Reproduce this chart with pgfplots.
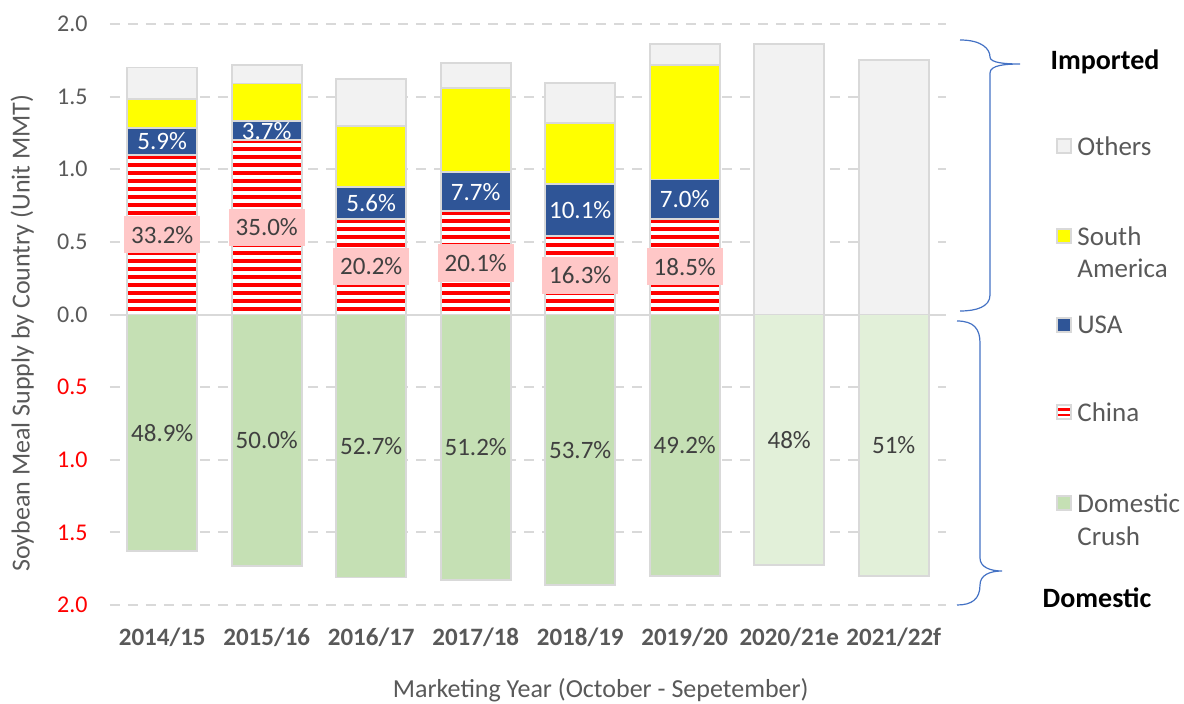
\documentclass[border=0pt]{standalone}
\usepackage{fontspec}
\setmainfont{Carlito}
\usepackage{pgfplots}
\pgfplotsset{compat=1.18}
\usetikzlibrary{patterns}
\pgfdeclarepatternformonly{wstripes}{\pgfpoint{0pt}{0pt}}{\pgfpoint{600pt}{3.85pt}}{\pgfpoint{600pt}{3.85pt}}{%
  \pgfpathrectangle{\pgfpoint{0pt}{0pt}}{\pgfpoint{600pt}{2.05pt}}\pgfusepath{fill}}
\definecolor{othersc}{HTML}{F2F2F2}
\definecolor{borderc}{HTML}{D9D9D9}
\definecolor{sac}{HTML}{FFFF00}
\definecolor{usac}{HTML}{2F5597}
\definecolor{domc}{HTML}{C5E0B4}
\definecolor{domfc}{HTML}{E2F0D9}
\definecolor{txtc}{HTML}{595959}
\definecolor{labc}{HTML}{404040}
\definecolor{pinkc}{HTML}{FFC7C7}
\definecolor{bracec}{HTML}{4472C4}
\newcommand{\tickfont}{\fontsize{12}{14}\selectfont}
\newcommand{\labfont}{\fontsize{12.5}{14}\selectfont}
\newcommand{\legfont}{\fontsize{13.5}{15}\selectfont}
\begin{document}
\begin{tikzpicture}
\useasboundingbox (-55pt,-49pt) rectangle (537pt,302.5pt);
\pgfplotsset{common/.style={width=418pt, height=290.5pt, scale only axis,
  xmin=-0.5, xmax=7.5, ymin=-2, ymax=2, enlargelimits=false,
  axis line style={draw=none}, tick style={draw=none}}}
\begin{axis}[common, ybar stacked, bar width=0.67,
  ytick={-2,-1.5,-1,-0.5,0,0.5,1,1.5,2},
  yticklabels={\textcolor{red}{2.0},\textcolor{red}{1.5},\textcolor{red}{1.0},\textcolor{red}{0.5},0.0,0.5,1.0,1.5,2.0},
  yticklabel style={font=\tickfont, text=txtc, anchor=east, inner sep=0pt, xshift=-11pt},
  xtick={0,1,2,3,4,5,6,7},
  xticklabels={2014/15,2015/16,2016/17,2017/18,2018/19,2019/20,2020/21e,2021/22f},
  xticklabel style={font=\labfont\bfseries, text=txtc, anchor=base, inner sep=0pt, yshift=-20pt},
  ymajorgrids, major grid style={borderc, line width=0.9pt, dash pattern=on 5pt off 4pt},
  extra y ticks={0}, extra y tick labels={},
  extra y tick style={grid=major, major grid style={solid, borderc, line width=1pt}},
  ylabel={Soybean Meal Supply by Country (Unit MMT)},
  ylabel style={at={(axis description cs:-0.105,0.468)}, anchor=center, font=\fontsize{13}{15}\selectfont, text=txtc},
  xlabel={Marketing Year (October - Sepetember)},
  xlabel style={at={(axis description cs:0.587,-0.146)}, anchor=center, font=\fontsize{13}{15}\selectfont, text=txtc},
]
% China
\addplot[fill=white, draw=borderc, line width=0.9pt,
  postaction={pattern=wstripes, pattern color=red}]
  coordinates {(0,1.10) (1,1.20) (2,0.66) (3,0.71) (4,0.54) (5,0.66) (6,0) (7,0)};
% USA
\addplot[fill=usac, draw=borderc, line width=0.9pt]
  coordinates {(0,0.185) (1,0.13) (2,0.22) (3,0.27) (4,0.36) (5,0.27) (6,0) (7,0)};
% South America
\addplot[fill=sac, draw=borderc, line width=0.9pt]
  coordinates {(0,0.20) (1,0.26) (2,0.42) (3,0.58) (4,0.42) (5,0.79) (6,0) (7,0)};
% Others
\addplot[fill=othersc, draw=borderc, line width=0.9pt]
  coordinates {(0,0.215) (1,0.13) (2,0.32) (3,0.17) (4,0.275) (5,0.14) (6,1.86) (7,1.75)};
\end{axis}
\begin{axis}[common, xtick=\empty, ytick=\empty]
% Domestic crush
\addplot[ybar, bar width=0.67, bar shift=0pt, fill=domc, draw=borderc, line width=0.9pt]
  coordinates {(0,-1.63) (1,-1.73) (2,-1.81) (3,-1.83) (4,-1.86) (5,-1.80)};
\addplot[ybar, bar width=0.67, bar shift=0pt, fill=domfc, draw=borderc, line width=0.9pt]
  coordinates {(6,-1.725) (7,-1.80)};
% USA labels
\addplot[draw=none, mark=none, nodes near coords={\pgfplotspointmeta\%}, point meta=explicit symbolic,
  every node near coord/.append style={anchor=center, text=white, font=\labfont, inner sep=0pt}]
  table[meta=l, row sep=\\] {x y l\\ 0 1.1925 5.9\\ 1 1.265 3.7\\ 2 0.77 5.6\\ 3 0.845 7.7\\ 4 0.72 10.1\\ 5 0.795 7.0\\};
% China labels
\addplot[draw=none, mark=none, nodes near coords={\pgfplotspointmeta\%}, point meta=explicit symbolic,
  every node near coord/.append style={anchor=center, text=labc, font=\labfont, fill=pinkc, inner xsep=3.5pt, inner ysep=5pt}]
  table[meta=l, row sep=\\] {x y l\\ 0 0.55 33.2\\ 1 0.60 35.0\\ 2 0.33 20.2\\ 3 0.355 20.1\\ 4 0.27 16.3\\ 5 0.33 18.5\\};
% Domestic labels
\addplot[draw=none, mark=none, nodes near coords={\pgfplotspointmeta\%}, point meta=explicit symbolic,
  every node near coord/.append style={anchor=center, text=labc, font=\labfont}]
  table[meta=l, row sep=\\] {x y l\\ 0 -0.815 48.9\\ 1 -0.865 50.0\\ 2 -0.905 52.7\\ 3 -0.915 51.2\\ 4 -0.93 53.7\\ 5 -0.90 49.2\\ 6 -0.8625 48\\ 7 -0.90 51\\};
\end{axis}
% braces
\draw[bracec, line width=0.6pt] (425pt,282.5pt) .. controls (436pt,282.5pt) and (440pt,278pt) .. (440pt,274pt)
  .. controls (440pt,271pt) and (448pt,270.5pt) .. (455pt,270.5pt)
  .. controls (448pt,270.5pt) and (440pt,270pt) .. (440pt,266pt)
  -- (440pt,155pt) .. controls (440pt,149pt) and (433pt,147pt) .. (425pt,147pt);
\draw[bracec, line width=0.6pt] (423.5pt,142pt) .. controls (432pt,142pt) and (435pt,138pt) .. (435pt,131pt)
  -- (435pt,23.5pt) .. controls (435pt,19pt) and (440pt,17pt) .. (446pt,17pt)
  .. controls (440pt,17pt) and (435pt,15pt) .. (435pt,10pt)
  .. controls (435pt,3pt) and (431pt,0pt) .. (423.5pt,0pt);
% legend
\node[font=\fontsize{14}{16}\selectfont\bfseries, anchor=center] at (497.5pt,271.5pt) {Imported};
\node[font=\fontsize{14}{16}\selectfont\bfseries, anchor=center] at (493.5pt,3.5pt) {Domestic};
\filldraw[fill=othersc, draw=borderc, line width=0.6pt] (473.5pt,226pt) rectangle (480.5pt,233pt);
\node[font=\legfont, text=txtc, anchor=west, inner sep=0pt] at (483.5pt,229.5pt) {Others};
\filldraw[fill=sac, draw=borderc, line width=0.6pt] (473.5pt,181pt) rectangle (480.5pt,188pt);
\node[font=\legfont, text=txtc, anchor=west, inner sep=0pt] at (483.5pt,184.5pt) {South};
\node[font=\legfont, text=txtc, anchor=west, inner sep=0pt] at (483.5pt,168.5pt) {America};
\filldraw[fill=usac, draw=borderc, line width=0.6pt] (473.5pt,136.5pt) rectangle (480.5pt,143.5pt);
\node[font=\legfont, text=txtc, anchor=west, inner sep=0pt] at (483.5pt,140pt) {USA};
\filldraw[fill=white, draw=borderc, line width=0.6pt] (473.5pt,93pt) rectangle (480.5pt,100pt);
\draw[red, line width=1.1pt] (474pt,97.8pt) -- (480pt,97.8pt);
\draw[red, line width=1.1pt] (474pt,95.2pt) -- (480pt,95.2pt);
\node[font=\legfont, text=txtc, anchor=west, inner sep=0pt] at (483.5pt,96.5pt) {China};
\filldraw[fill=domc, draw=borderc, line width=0.6pt] (473.5pt,47.5pt) rectangle (480.5pt,54.5pt);
\node[font=\legfont, text=txtc, anchor=west, inner sep=0pt] at (483.5pt,51pt) {Domestic};
\node[font=\legfont, text=txtc, anchor=west, inner sep=0pt] at (483.5pt,34.5pt) {Crush};
\end{tikzpicture}
\end{document}
